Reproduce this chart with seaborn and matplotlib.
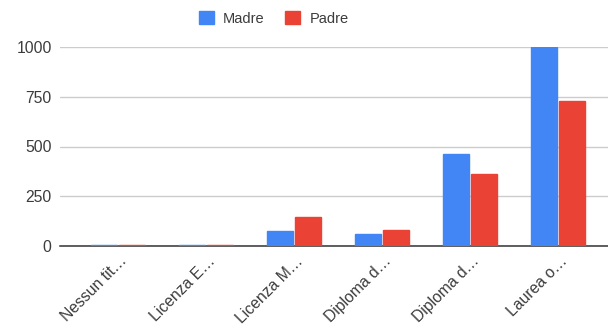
import matplotlib
matplotlib.use("Agg")
import matplotlib.pyplot as plt
import matplotlib.transforms as mtransforms
import seaborn as sns
import pandas as pd

# Titolo di studio dei genitori
categorie = ["Nessun tit…", "Licenza E…", "Licenza M…", "Diploma d…", "Diploma d…", "Laurea o…"]
madre = [4, 4, 72, 59, 464, 1000]
padre = [4, 4, 143, 81, 360, 728]
serie = ["Madre", "Padre"]
colori = {"Madre": "#4285F4", "Padre": "#EA4335"}
yticks = [0, 250, 500, 750, 1000]

df = pd.DataFrame({
    "pos": list(range(len(categorie))) * 2,
    "valore": madre + padre,
    "Genitore": ["Madre"] * len(madre) + ["Padre"] * len(padre),
})

sns.set_theme(style="white")
plt.rcParams["font.family"] = ["Liberation Sans", "DejaVu Sans"]

fig = plt.figure(figsize=(6.08, 3.28), dpi=100)
ax = fig.add_axes([60 / 608, 1 - 245.7 / 328, 548 / 608, (245.7 - 47.3) / 328])

sns.barplot(data=df, x="pos", y="valore", hue="Genitore", hue_order=serie,
            palette=colori, width=0.64, gap=0.06, saturation=1,
            native_scale=True, legend=False, ax=ax, zorder=3)

# bordo dello stesso colore della barra, così anche i valori minimi restano visibili
for bar in ax.patches:
    bar.set_edgecolor(bar.get_facecolor())
    bar.set_linewidth(1.0)

ax.set_xlim(-0.66, 5.57)
ax.set_ylim(0, 1000)
ax.set_yticks(yticks)
ax.set_yticklabels([str(v) for v in yticks], fontsize=11.3, color="#3c3c3c")
ax.grid(axis="y", color="#cccccc", linewidth=1)
ax.set_axisbelow(True)
for s in ["top", "right", "left"]:
    ax.spines[s].set_visible(False)
ax.spines["bottom"].set_color("#333333")
ax.spines["bottom"].set_linewidth(1.1)
ax.spines["bottom"].set_zorder(2)
ax.tick_params(axis="y", length=0, pad=6)
ax.tick_params(axis="x", length=0, pad=4)
ax.set_xlabel("")
ax.set_ylabel("")

ax.set_xticks(range(len(categorie)))
ax.set_xticklabels(categorie, rotation=45, ha="right", va="top",
                   fontsize=11.3, color="#3c3c3c")
shift = mtransforms.ScaledTranslation(12 / 100, -2 / 100, fig.dpi_scale_trans)
for lab in ax.get_xticklabels():
    lab.set_transform(lab.get_transform() + shift)

handles = [plt.Rectangle((0, 0), 1, 1, color=colori[s]) for s in serie]
fig.legend(handles, serie, loc="upper left", bbox_to_anchor=(186 / 608, 1 + 2 / 328),
           ncol=2, frameon=False, fontsize=10.5, handlelength=1.0,
           handleheight=1.0, handletextpad=0.65, columnspacing=1.4,
           labelcolor="#3c3c3c")

fig.savefig("out.png", dpi=100)
